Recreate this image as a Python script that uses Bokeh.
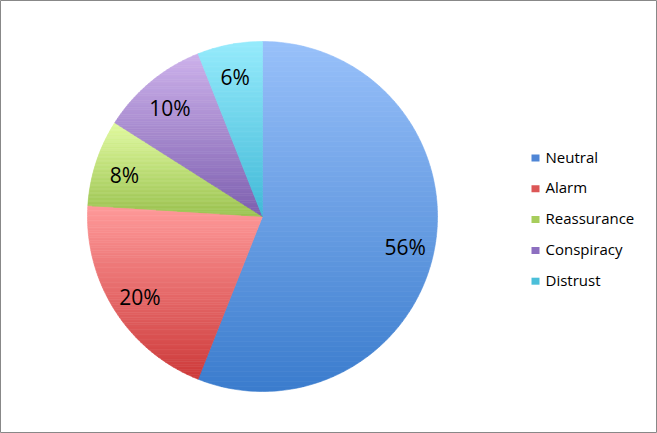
from bokeh.plotting import figure
from bokeh.models import ColumnDataSource, Range1d
from bokeh.core.properties import value
from bokeh.embed import file_html
from bokeh.resources import INLINE
import math

# Share of items by tone
categories = ["Neutral", "Alarm", "Reassurance", "Conspiracy", "Distrust"]
shares = [56, 20, 8, 10, 6]

# Gradient end colours per slice (top, bottom)
top_colors = [(152, 192, 250), (255, 155, 155), (225, 250, 160), (205, 178, 235), (150, 235, 252)]
bottom_colors = [(58, 124, 205), (205, 58, 58), (155, 195, 80), (125, 95, 175), (65, 185, 215)]
legend_colors = ["#4f86d6", "#dc5656", "#a7cd5c", "#8d6fc0", "#4bbfd9"]

W, H = 657, 433
CX, CY, R = 262, 216, 175
LABEL_FRAC = 0.83
N_BANDS = 70


def hexcol(c):
    return "#%02x%02x%02x" % tuple(int(round(v)) for v in c)


def clip_half(poly, yc, keep_below):
    # keep the part of the polygon with y >= yc (keep_below) or y <= yc
    out = []
    n = len(poly)
    for i in range(n):
        a = poly[i]
        b = poly[(i + 1) % n]
        ina = a[1] >= yc if keep_below else a[1] <= yc
        inb = b[1] >= yc if keep_below else b[1] <= yc
        if ina:
            out.append(a)
        if ina != inb:
            t = (yc - a[1]) / (b[1] - a[1])
            out.append((a[0] + t * (b[0] - a[0]), yc))
    return out


xs, ys, fills = [], [], []
lx, ly, ltxt = [], [], []
total = float(sum(shares))
start = 0.0
for i, s in enumerate(shares):
    t0 = start / total * 2 * math.pi
    t1 = (start + s) / total * 2 * math.pi
    start += s
    steps = max(8, int(s * 3))
    poly = [(CX, CY)]
    for k in range(steps + 1):
        t = t0 + (t1 - t0) * k / steps
        poly.append((CX + R * math.sin(t), CY - R * math.cos(t)))
    ymin = min(pt[1] for pt in poly)
    ymax = max(pt[1] for pt in poly)
    # vertical gradient across each slice, light at its top, dark at its bottom
    for b in range(N_BANDS):
        ya = ymin + (ymax - ymin) * b / N_BANDS
        yb = ymin + (ymax - ymin) * (b + 1) / N_BANDS
        piece = clip_half(poly, ya, True)
        if len(piece) < 3:
            continue
        piece = clip_half(piece, yb, False)
        if len(piece) < 3:
            continue
        f = (b + 0.5) / N_BANDS
        c = [top_colors[i][j] + (bottom_colors[i][j] - top_colors[i][j]) * f for j in range(3)]
        xs.append([pt[0] for pt in piece])
        ys.append([pt[1] for pt in piece])
        fills.append(hexcol(c))
    tm = (t0 + t1) / 2
    lx.append(CX + LABEL_FRAC * R * math.sin(tm))
    ly.append(CY - LABEL_FRAC * R * math.cos(tm) + 3)
    ltxt.append("%d%%" % s)

p = figure(width=W, height=H, output_backend="svg", toolbar_location=None,
           x_range=Range1d(0, W), y_range=Range1d(H, 0), min_border=0,
           background_fill_color="white", border_fill_color="white")
p.axis.visible = False
p.grid.visible = False
p.outline_line_color = "#888888"
p.outline_line_width = 1

src = ColumnDataSource(dict(xs=xs, ys=ys, fill=fills))
p.patches("xs", "ys", source=src, fill_color="fill", line_color="fill", line_width=0.6)

p.text(x=lx, y=ly, text=ltxt, text_font=value("Open Sans"), text_font_size="21px",
       text_color="#000000", text_align="center", text_baseline="middle")

# legend
leg_y = [156 + 30.8 * i for i in range(len(categories))]
p.rect(x=[535] * len(categories), y=[v + 1.5 for v in leg_y], width=8, height=7,
       fill_color=legend_colors, line_color=None)
p.text(x=[545] * len(categories), y=leg_y, text=categories, text_font=value("Open Sans"),
       text_font_size="15px", text_color="#000000", text_align="left", text_baseline="middle")

open("out.html", "w").write(file_html(p, INLINE))
